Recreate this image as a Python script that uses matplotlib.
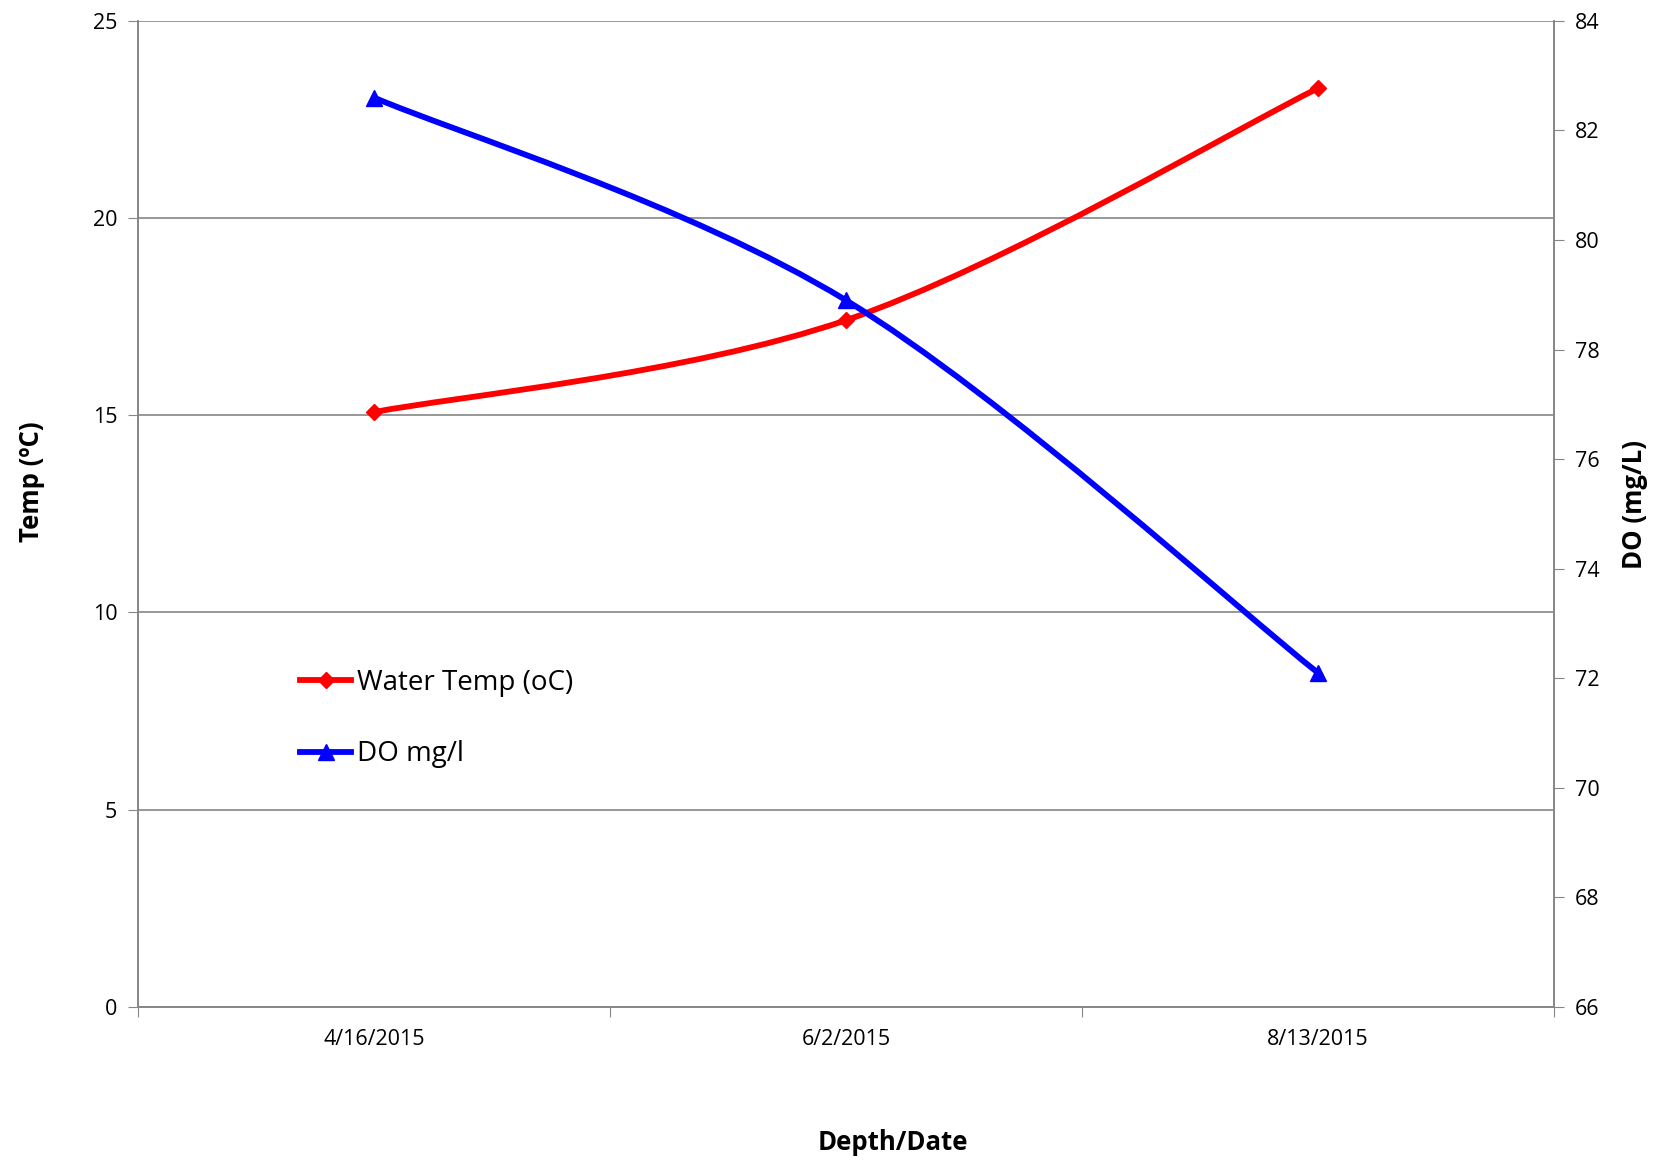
import matplotlib
matplotlib.use("Agg")
import matplotlib.pyplot as plt
from matplotlib.path import Path
from matplotlib.patches import PathPatch
from matplotlib.lines import Line2D
import numpy as np

dates = ["4/16/2015", "6/2/2015", "8/13/2015"]
water_temp = [15.08, 17.41, 23.29]
do_vals = [82.6, 78.9, 72.1]

plt.rcParams['font.family'] = ['Open Sans', 'DejaVu Sans']

fig = plt.figure(figsize=(16.53, 11.6), dpi=100)
ax = fig.add_axes([0.0835, 0.132, 0.8565, 0.850])
ax2 = ax.twinx()

x = np.arange(len(dates)) + 0.5


def smooth_path(xs, ys):
    pts = np.column_stack([xs, ys])
    n = len(pts)
    verts = [pts[0]]
    codes = [Path.MOVETO]
    for i in range(n - 1):
        p0 = pts[i - 1] if i > 0 else pts[i]
        p1 = pts[i]
        p2 = pts[i + 1]
        p3 = pts[i + 2] if i + 2 < n else pts[i + 1]
        c1 = p1 + (p2 - p0) / 6.0
        c2 = p2 - (p3 - p1) / 6.0
        verts += [c1, c2, p2]
        codes += [Path.CURVE4] * 3
    return Path(verts, codes)


red = "#ff0000"
blue = "#0000ff"
lw = 4.2

ax.add_patch(PathPatch(smooth_path(x, water_temp), fill=False, edgecolor=red, lw=lw, zorder=3, capstyle='round'))
ax.plot(x, water_temp, linestyle='none', marker='D', ms=8.5, color=red, zorder=4)
ax2.add_patch(PathPatch(smooth_path(x, do_vals), fill=False, edgecolor=blue, lw=lw, zorder=3, capstyle='round'))
ax2.plot(x, do_vals, linestyle='none', marker='^', ms=11, color=blue, zorder=4)

ax.set_xlim(0, 3)
ax.set_ylim(0, 25)
ax.set_yticks([0, 5, 10, 15, 20, 25])
ax2.set_ylim(66, 84)
ax2.set_yticks(np.arange(66, 85, 2))

ax.set_xticks([0, 1, 2, 3])
ax.set_xticklabels([])
ax.set_xticks(x, minor=True)
ax.set_xticklabels(dates, minor=True)
ax.tick_params(axis='x', which='minor', length=0, pad=16, labelsize=15.5)
ax.tick_params(axis='x', which='major', length=7, color='#868686', direction='out')

ax.grid(axis='y', color='#868686', lw=1.2)
ax.set_axisbelow(True)
ax.tick_params(axis='y', length=7, color='#868686', labelsize=15.5, pad=8)
ax2.tick_params(axis='y', length=7, color='#868686', labelsize=15.5, pad=8)

for a in (ax, ax2):
    a.spines['top'].set_visible(False)
    for s in ['left', 'bottom', 'right']:
        a.spines[s].set_color('#868686')
        a.spines[s].set_linewidth(1.2)

fig.text(0.019, 0.585, "Temp (ºC)", rotation=90, ha='center', va='center', fontsize=18.5, fontweight='bold')
fig.text(0.989, 0.565, "DO (mg/L)", rotation=90, ha='center', va='center', fontsize=18.5, fontweight='bold')
fig.text(0.54, 0.0155, "Depth/Date", ha='center', va='center', fontsize=18.5, fontweight='bold')

handles = [
    Line2D([], [], color=red, lw=lw, marker='D', ms=8.5),
    Line2D([], [], color=blue, lw=lw, marker='^', ms=11),
]
ax.legend(handles, ["Water Temp (oC)", "DO mg/l"], loc='upper left',
          bbox_to_anchor=(0.1144, 0.3425), frameon=False, fontsize=20,
          handlelength=1.85, handletextpad=0.2, labelspacing=1.55,
          borderaxespad=0, borderpad=0)

fig.savefig("out.png", dpi=100)
